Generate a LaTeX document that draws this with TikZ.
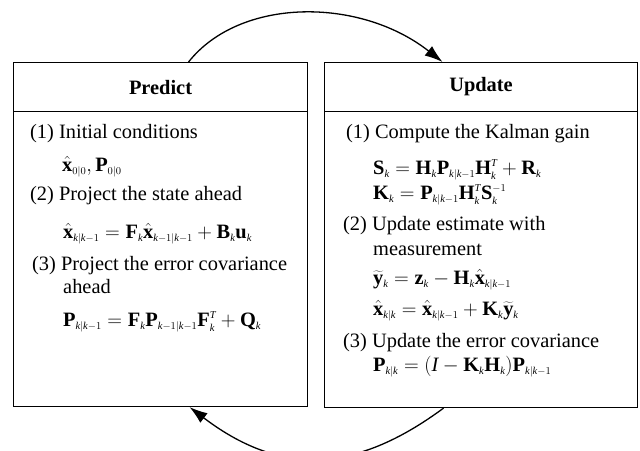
\RequirePackage{fix-cm}
\documentclass[tikz,border=0pt]{standalone}
\usepackage{fontspec}
\setmainfont{Liberation Serif}
\usetikzlibrary{arrows.meta}
\DeclareMathSizes{20.4}{20.4}{10.5}{8}
\newcommand{\bfv}[1]{\mathbf{#1}}
\newcommand{\hx}{\hat{\mathbf{x}}}
\newcommand{\ty}{\widetilde{\mathbf{y}}}
\newcommand{\ik}{\mathit{k}}
\newcommand{\kk}{\mathit{k}|\mathit{k}}
\newcommand{\kkm}{\mathit{k}|\mathit{k}-1}
\newcommand{\kmkm}{\mathit{k}-1|\mathit{k}-1}
\newcommand{\tT}{\mathit{T}}
\begin{document}
\begin{tikzpicture}[x=1pt,y=-1pt,
  boxpart/.style={draw, line width=1.1pt, inner sep=0pt, anchor=north west},
  txt/.style={anchor=base west, inner sep=0pt, font=\fontsize{20.4}{24}\selectfont},
  hdr/.style={inner sep=0pt, font=\fontsize{20.4}{24}\selectfont\bfseries},
  flow/.style={line width=1.3pt, -{Latex[length=18pt,width=12pt]}}]
\useasboundingbox (0,0) rectangle (640,450);
% boxes
\node[boxpart, minimum width=294pt, minimum height=49pt] (phead) at (13,62) {};
\node[boxpart, minimum width=294pt, minimum height=295pt] (pbody) at (13,111) {};
\node[boxpart, minimum width=313pt, minimum height=49pt] (uhead) at (324,62) {};
\node[boxpart, minimum width=313pt, minimum height=296pt] (ubody) at (324,111) {};
\node[hdr] (ptitle) at (phead.center) {Predict};
\node[hdr] (utitle) at (uhead.center) {Update};
% predict contents
\node[txt] (p1) at (30,138) {(1) Initial conditions};
\node[txt] (p1m) at (62,171) {$\hx_{0|0},\bfv{P}_{0|0}$};
\node[txt] (p2) at (30,200) {(2) Project the state ahead};
\node[txt] (p2m) at (63,238) {$\hx_{\kkm}=\bfv{F}_{\ik}\hx_{\kmkm}+\bfv{B}_{\ik}\bfv{u}_{\ik}$};
\node[txt] (p3) at (32,270) {(3) Project the error covariance};
\node[txt] (p3b) at (63,293) {ahead};
\node[txt] (p3m) at (63,326) {$\bfv{P}_{\kkm}=\bfv{F}_{\ik}\bfv{P}_{\kmkm}\bfv{F}_{\ik}^{\tT}+\bfv{Q}_{\ik}$};
% update contents
\node[txt] (u1) at (346,138) {(1) Compute the Kalman gain};
\node[txt] (u1a) at (373,174) {$\bfv{S}_{\ik}=\bfv{H}_{\ik}\bfv{P}_{\kkm}\bfv{H}_{\ik}^{\tT}+\bfv{R}_{\ik}$};
\node[txt] (u1b) at (373,199) {$\bfv{K}_{\ik}=\bfv{P}_{\kkm}\bfv{H}_{\ik}^{\tT}\bfv{S}_{\ik}^{-1}$};
\node[txt] (u2) at (343,230) {(2) Update estimate with};
\node[txt] (u2b) at (373,255) {measurement};
\node[txt] (u2c) at (373,284) {$\ty_{\ik}=\bfv{z}_{\ik}-\bfv{H}_{\ik}\hx_{\kkm}$};
\node[txt] (u2d) at (373,315) {$\hx_{\kk}=\hx_{\kkm}+\bfv{K}_{\ik}\ty_{\ik}$};
\node[txt] (u3) at (343,347) {(3) Update the error covariance};
\node[txt] (u3m) at (373,371) {$\bfv{P}_{\kk}=(\mathit{I}-\bfv{K}_{\ik}\bfv{H}_{\ik})\bfv{P}_{\kkm}$};
% connectors
\draw[flow] ([xshift=28pt]phead.north) .. controls (240,-3) and (360,-3) .. ([xshift=-38.5pt]uhead.north);
\draw[flow] ([xshift=-37.5pt]ubody.south) .. controls (353,475) and (279,475) .. ([xshift=29pt]pbody.south);
\end{tikzpicture}
\end{document}
